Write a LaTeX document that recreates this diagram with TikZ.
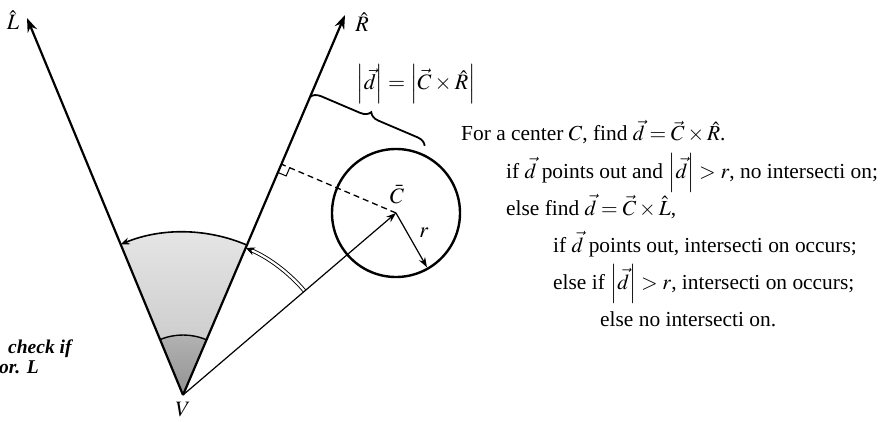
\documentclass[tikz,border=0pt]{standalone}
\usepackage{mathptmx}
\usepackage[no-math]{fontspec}
\setmainfont{Liberation Serif}
\usetikzlibrary{arrows.meta,calc,decorations.pathreplacing}
\begin{document}
\begin{tikzpicture}[x=1pt,y=1pt,
  axis/.style={line width=2.2pt,-{Stealth[length=14pt,width=10pt]}},
  thinarrow/.style={line width=1.2pt,-{Stealth[length=10pt,width=7pt]}},
  lbl/.style={inner sep=0pt,font=\fontsize{22}{24}\selectfont},
  txt/.style={anchor=base west,inner sep=0pt,font=\fontsize{21.4}{24}\selectfont},
  note/.style={anchor=base west,inner sep=0pt,font=\fontsize{19.5}{22}\selectfont\bfseries\itshape}]
\useasboundingbox (0,0) rectangle (888,421);
\coordinate (V) at (183,26);
\coordinate (Ltip) at (27,403);
\coordinate (Rtip) at (345,406);
\coordinate (C) at (396,208);
\coordinate (F) at ($(V)!(C)!(Rtip)$);
% shaded fan
\begin{scope}
  \clip (V) -- ($(V)+(66.91:163)$) arc[start angle=66.91,end angle=112.48,radius=163] -- cycle;
  \shade[top color=gray!20,bottom color=gray!48] (20,26) rectangle (350,192);
  \shade[top color=gray!60,bottom color=gray!85] (V) -- ($(V)+(66.91:60)$) arc[start angle=66.91,end angle=112.48,radius=60] -- cycle;
\end{scope}
\draw[line width=1.4pt] ($(V)+(66.91:60)$) arc[start angle=66.91,end angle=112.48,radius=60];
\draw[line width=1.6pt,-{Stealth[length=9pt,width=7pt]}] ($(V)+(66.91:163)$) arc[start angle=66.91,end angle=112.48,radius=163];
\draw[double,double distance=2.2pt,line width=0.9pt,-{Stealth[length=9pt,width=8pt]}] ($(V)+(40.52:160)$) arc[start angle=40.52,end angle=66.91,radius=160];
% axes
\draw[axis] (V) -- (Ltip);
\draw[axis] (V) -- (Rtip);
\node[lbl] (Llbl) at (13,401) {$\hat L$};
\node[lbl] (Rlbl) at (362,399) {$\hat R$};
\node[lbl] (Vlbl) at (183,11) {$V$};
% circle
\draw[line width=2.4pt] (C) circle[radius=64];
\coordinate (Redge) at ($(C)+(-60.3:62.5)$);
\draw[thinarrow] (V) -- (C);
\draw[thinarrow] (C) -- (Redge);
\node[lbl] (rlbl) at (424,188) {$r$};
\node[lbl] (Clbl) at (397,226) {$\bar C$};
% perpendicular
\draw[line width=1.3pt,dash pattern=on 6pt off 4pt] (C) -- (F);
\coordinate (Fa) at ($(F)!9pt!(V)$);
\coordinate (Fb) at ($(F)!9pt!(C)$);
\draw[line width=1pt] (Fa) -- ($(Fa)+(Fb)-(F)$) -- (Fb);
% brace
\coordinate (B1) at ($(V)!324pt!(Rtip)$);
\coordinate (B2) at ($(B1)+(C)-(F)$);
\draw[line width=1.8pt,decorate,decoration={brace,amplitude=10pt}] (B1) -- (B2);
\node[lbl] (blbl) at (416,337) {$\left|\vec d\right| = \left|\vec C\times\hat R\right|$};
% text
\node[txt] (t1) at (461,280) {For a center $C$, find $\vec d = \vec C\times\hat R$.};
\node[txt] (t2) at (506,243) {if $\vec d$ points out and $\left|\vec d\right| > r$, no intersecti on;};
\node[txt] (t3) at (506,206) {else find $\vec d = \vec C\times\hat L$,};
\node[txt] (t4) at (553,169) {if $\vec d$ points out, intersecti on occurs;};
\node[txt] (t5) at (553,132) {else if $\left|\vec d\right| > r$, intersecti on occurs;};
\node[txt] (t6) at (600,95) {else no intersecti on.};
\node[note] (n1) at (8,68) {check if};
\node[note] (n2) at (-1,48) {or. L};
\end{tikzpicture}
\end{document}
